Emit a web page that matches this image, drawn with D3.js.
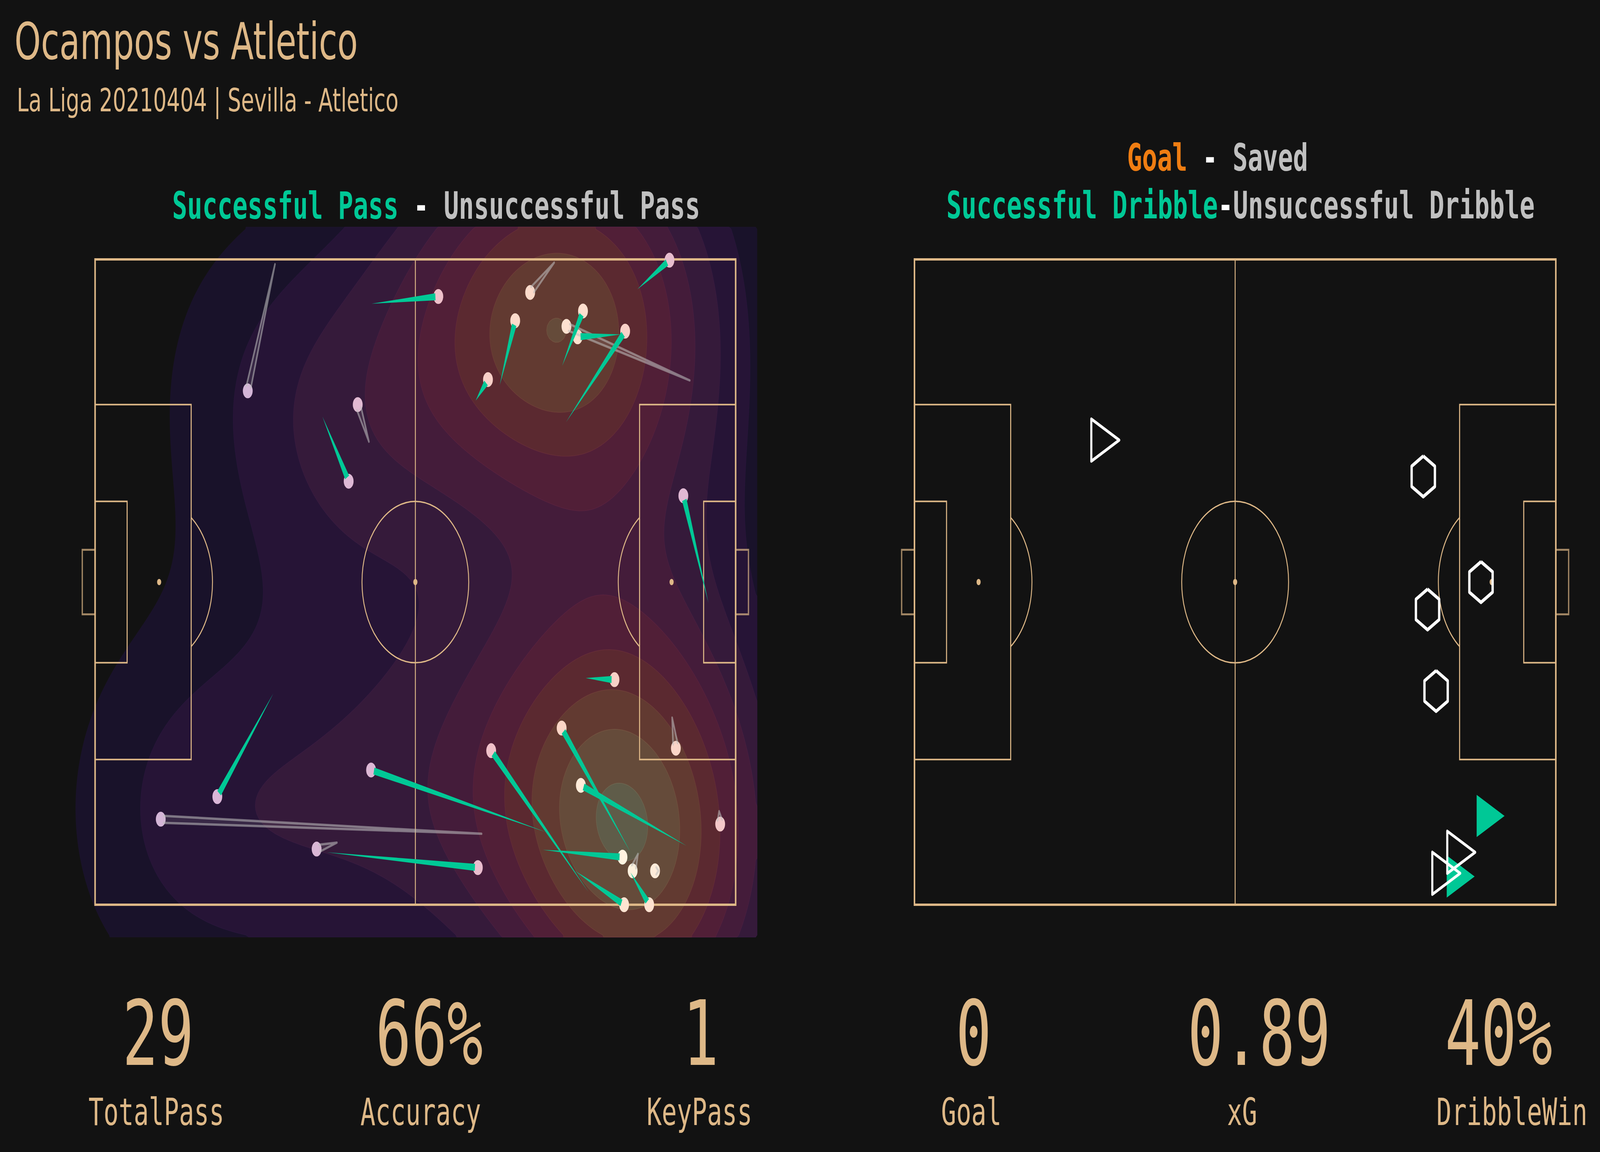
<!DOCTYPE html>
<html>
<head>
<meta charset="utf-8">
<script src="https://cdn.jsdelivr.net/npm/d3@7"></script>
<style>
  html, body { margin: 0; padding: 0; background: #121212; overflow: hidden; }
  svg { display: block; width: 100vw; height: 100vh; }
  text { white-space: pre; }
</style>
</head>
<body>
<div id="chart"></div>
<script>
// Data (StatsBomb pitch units, 120 x 80, y measured from the top touchline)
const passStartX = [51.8, 33.7, 51.3, 42.6, 86.0, 75.8, 71.3, 87.5, 111.4, 98.5, 88.2, 101.6, 114.9, 91.9, 100.3,
  108.1, 92.4, 84.5, 110.8, 33.4, 72.4, 45.3, 43.4, 83.9, 101.7, 105.6, 89.9, 100.3, 116.9]
const passStartY = [5.5, 0.6, 22.6, 19.5, 0.4, 15.6, 17.5, 13.2, 15.0, 9.3, 20.2, 3.7, 42.6, 51.9, 73.5,
  56.8, 78.4, 71.0, 72.7, 53.8, 71.2, 72.3, 73.5, 73.2, 73.7, 75.8, 75.8, 76.0, 68.4]
const passEndX = [64.3, 28.6, 49.2, 47.5, 81.5, 78.7, 73.6, 91.4, 88.3, 90.4, 99.3, 107.6, 110.2, 97.3, 87.4,
  108.8, 74.2, 51.7, 91.0, 22.9, 12.3, 41.5, 71.7, 98.8, 100.7, 104.9, 99.1, 103.8, 117.1]
const passEndY = [4.6, 16.3, 18.0, 27.5, 4.1, 7.6, 14.9, 6.4, 8.3, 9.6, 8.9, 0.1, 29.3, 52.1, 58.1,
  60.6, 60.9, 63.3, 65.2, 66.6, 69.4, 73.1, 75.4, 74.1, 75.8, 75.8, 80.0, 80.0, 70.0]
const passSuccess = [1, 0, 0, 1, 0, 1, 1, 1, 0, 1, 1, 1, 1, 1, 1,
  0, 1, 1, 1, 1, 0, 0, 1, 1, 0, 0, 1, 1, 0]

const shotX = [95.2, 106.0, 96.0, 97.6]
const shotY = [26.9, 40.0, 43.4, 53.5]

const dribbleX = [107.8, 102.2, 102.3, 99.5, 35.7]
const dribbleY = [69.0, 76.5, 73.5, 76.1, 22.4]
const dribbleWon = [1, 1, 0, 0, 0]

const statValues = ['29', '66%', '1', '0', '0.89', '40%']
const statLabels = ['TotalPass', 'Accuracy', 'KeyPass', 'Goal', 'xG', 'DribbleWin']

// Layout / styles
const W = 6192, H = 2949
const bg = '#121212'
const tan = '#deb887'
const green = '#00c896'
const grey = '#c0c0c0'
const orange = '#ef7d12'
const kdeColors = ['#19122a', '#261436', '#351a3a', '#441c3a', '#511f37', '#5b2930', '#623a31', '#654b3a', '#5f5c49']
const statValueX = [612, 1661, 2712, 3768, 4873, 5800]
const statLabelX = [605, 1628, 2707, 3759, 4807, 5851]
const levelSteps = 9.25 // peak density expressed in contour steps

const svg = d3.select('#chart')
  .append('svg')
  .attr('viewBox', `0 0 ${W} ${H}`)
  .attr('preserveAspectRatio', 'none')

svg.append('rect').attr('width', W).attr('height', H).attr('fill', bg)

// Scales
const xL = d3.scaleLinear().domain([0, 120]).range([368, 2847])
const yL = d3.scaleLinear().domain([0, 80]).range([664, 2316])
const xR = d3.scaleLinear().domain([0, 120]).range([3539, 6021])
const yR = d3.scaleLinear().domain([0, 80]).range([664, 2316])

// Titles
svg.append('text')
  .attr('x', 56).attr('y', 151)
  .attr('font-family', 'DejaVu Sans').attr('font-size', 130)
  .attr('fill', tan)
  .text('Ocampos vs Atletico')

svg.append('text')
  .attr('x', 65).attr('y', 285)
  .attr('font-family', 'DejaVu Sans').attr('font-size', 82)
  .attr('fill', tan)
  .text('La Liga 20210404 | Sevilla - Atletico')

function heading(x, y, parts) {
  const t = svg.append('text')
    .attr('x', x).attr('y', y)
    .attr('text-anchor', 'middle')
    .attr('font-family', 'DejaVu Sans Mono').attr('font-weight', 'bold')
    .attr('font-size', 97)
  parts.forEach(([s, c]) => t.append('tspan').attr('fill', c).text(s))
}
heading(1688, 560, [['Successful Pass', green], [' - ', '#ffffff'], ['Unsuccessful Pass', grey]])
heading(4712, 437, [['Goal', orange], [' - ', '#ffffff'], ['Saved', grey]])
heading(4801, 559, [['Successful Dribble', green], ['-', '#ffffff'], ['Unsuccessful Dribble', grey]])

// KDE of pass end locations (gaussian, scott bandwidth, evenly spaced levels)
const kdeLeft = svg.append('g')
const step = 0.5
const nx = Math.round(128 / step), ny = Math.round(88 / step)
const n = passEndX.length
const mx = d3.mean(passEndX), my = d3.mean(passEndY)
let sxx = 0, syy = 0, sxy = 0
for (let i = 0; i < n; i++) {
  const dx = passEndX[i] - mx, dy = passEndY[i] - my
  sxx += dx * dx; syy += dy * dy; sxy += dx * dy
}
const f2 = Math.pow(n, -1 / 3)
const cxx = sxx / (n - 1) * f2, cyy = syy / (n - 1) * f2, cxy = sxy / (n - 1) * f2
const det = cxx * cyy - cxy * cxy
const ixx = cyy / det, iyy = cxx / det, ixy = -cxy / det

function density(px, py) {
  let s = 0
  for (let i = 0; i < n; i++) {
    const dx = px - passEndX[i], dy = py - passEndY[i]
    s += Math.exp(-0.5 * (dx * dx * ixx + 2 * dx * dy * ixy + dy * dy * iyy))
  }
  return s
}

const grid = new Float64Array(nx * ny)
for (let j = 0; j < ny; j++) {
  for (let i = 0; i < nx; i++) {
    grid[j * nx + i] = density(-4 + (i + 0.5) * step, -4 + (j + 0.5) * step)
  }
}
const gridMax = d3.max(grid)
const levelStep = gridMax / levelSteps
const levels = d3.range(1, 10).map(k => k * levelStep)

const kdeProj = d3.geoTransform({
  point(x, y) { this.stream.point(xL(-4 + x * step), yL(-4 + y * step)) }
})
const kdePath = d3.geoPath(kdeProj)
const contours = d3.contours().size([nx, ny]).thresholds(levels)(grid)

kdeLeft.selectAll('path')
  .data(contours)
  .join('path')
  .attr('d', kdePath)
  .attr('fill', (d, i) => kdeColors[i])
  .attr('stroke', (d, i) => d3.color(kdeColors[i]).brighter(0.6))
  .attr('stroke-width', 2)
  .attr('stroke-opacity', 0.5)

// Pitch
function drawPitch(g, x, y) {
  const r = x(10) - x(0)
  const rect = (x0, y0, x1, y1, w, op) => g.append('rect')
    .attr('x', x(x0)).attr('y', y(y0))
    .attr('width', x(x1) - x(x0)).attr('height', y(y1) - y(y0))
    .attr('fill', 'none').attr('stroke', tan)
    .attr('stroke-width', w).attr('stroke-opacity', op)
  rect(0, 18, 18, 62, 4, 1)
  rect(102, 18, 120, 62, 4, 1)
  rect(0, 30, 6, 50, 4, 1)
  rect(114, 30, 120, 50, 4, 1)
  rect(-2.4, 36, 0, 44, 5, 0.7)
  rect(120, 36, 122.4, 44, 5, 0.7)
  g.append('line')
    .attr('x1', x(60)).attr('x2', x(60)).attr('y1', y(0)).attr('y2', y(80))
    .attr('stroke', tan).attr('stroke-width', 3.5)
  g.append('circle')
    .attr('cx', x(60)).attr('cy', y(40)).attr('r', r)
    .attr('fill', 'none').attr('stroke', tan).attr('stroke-width', 3.5)
  g.append('path')
    .attr('d', `M${x(18)},${y(32)} A${r},${r} 0 0 1 ${x(18)},${y(48)}`)
    .attr('fill', 'none').attr('stroke', tan).attr('stroke-width', 3.5)
  g.append('path')
    .attr('d', `M${x(102)},${y(32)} A${r},${r} 0 0 0 ${x(102)},${y(48)}`)
    .attr('fill', 'none').attr('stroke', tan).attr('stroke-width', 3.5)
  g.selectAll('.spot')
    .data([12, 60, 108])
    .join('circle')
    .attr('cx', d => x(d)).attr('cy', y(40)).attr('r', 8)
    .attr('fill', tan)
  rect(0, 0, 120, 80, 6, 1)
}
drawPitch(svg.append('g'), xL, yL)
drawPitch(svg.append('g'), xR, yR)

// Pass end dots coloured by density
const dotColor = d3.scaleLinear()
  .domain([0.1, 0.35, 0.6, 0.8, 1])
  .range(['#c9b2d9', '#dcb7d6', '#f2c2c8', '#fcd7c7', '#fff8e4'])
  .clamp(true)

const passes = passEndX.map((d, i) => ({
  sx: xL(passStartX[i]), sy: yL(passStartY[i]),
  ex: xL(passEndX[i]), ey: yL(passEndY[i]),
  ok: passSuccess[i],
  dens: density(passEndX[i], passEndY[i]) / gridMax
}))

const dotR = 19
svg.append('g').selectAll('circle')
  .data(passes)
  .join('circle')
  .attr('cx', d => d.ex).attr('cy', d => d.ey).attr('r', dotR)
  .attr('fill', d => dotColor(d.dens))

// Comet lines: thin at the start, wide at the end
const wideEnd = 18
function wedge(d) {
  const len = Math.hypot(d.ex - d.sx, d.ey - d.sy) || 1
  const ux = (d.ex - d.sx) / len, uy = (d.ey - d.sy) / len
  const cut = Math.min(dotR * 0.6, len * 0.3)
  const bx = d.ex - ux * cut, by = d.ey - uy * cut
  const nxv = -uy * wideEnd / 2, nyv = ux * wideEnd / 2
  return [[d.sx, d.sy], [bx + nxv, by + nyv], [bx - nxv, by - nyv]]
}

const lineG = svg.append('g')
lineG.selectAll('.fail')
  .data(passes.filter(d => !d.ok))
  .join('path')
  .attr('class', 'fail')
  .attr('d', d => {
    const p = wedge(d)
    return `M${p[1]}L${p[0]}L${p[2]}`
  })
  .attr('fill', grey).attr('fill-opacity', 0.12)
  .attr('stroke', grey).attr('stroke-opacity', 0.55)
  .attr('stroke-width', 6).attr('stroke-linejoin', 'round').attr('stroke-linecap', 'round')

lineG.selectAll('.ok')
  .data(passes.filter(d => d.ok))
  .join('path')
  .attr('class', 'ok')
  .attr('d', d => 'M' + wedge(d).join('L') + 'Z')
  .attr('fill', green)

// Shots (hexagons)
const hexR = 52
const hexPath = d3.line()(d3.range(7).map(k => {
  const a = (-90 + 60 * k) * Math.PI / 180
  return [hexR * Math.cos(a), hexR * Math.sin(a)]
}))
svg.append('g').selectAll('path')
  .data(shotX.map((d, i) => [d, shotY[i]]))
  .join('path')
  .attr('d', hexPath)
  .attr('transform', d => `translate(${xR(d[0])},${yR(d[1])})`)
  .attr('fill', 'none').attr('stroke', '#ffffff').attr('stroke-width', 9)
  .attr('stroke-linejoin', 'round')

// Dribbles (right-pointing triangles)
const triS = 54
const triPath = `M${triS},0L${-triS},${-triS}L${-triS},${triS}Z`
const dribbles = dribbleX.map((d, i) => ({ x: d, y: dribbleY[i], won: dribbleWon[i] }))
  .sort((a, b) => b.won - a.won)
svg.append('g').selectAll('path')
  .data(dribbles)
  .join('path')
  .attr('d', triPath)
  .attr('transform', d => `translate(${xR(d.x)},${yR(d.y)})`)
  .attr('fill', d => d.won ? green : 'none')
  .attr('stroke', d => d.won ? 'none' : '#ffffff')
  .attr('stroke-width', 8)
  .attr('stroke-linejoin', 'round')

// Stats row
svg.append('g').selectAll('text')
  .data(statValues)
  .join('text')
  .attr('x', (d, i) => statValueX[i]).attr('y', 2726)
  .attr('text-anchor', 'middle')
  .attr('font-family', 'DejaVu Sans Mono').attr('font-size', 230)
  .attr('fill', tan)
  .text(d => d)

svg.append('g').selectAll('text')
  .data(statLabels)
  .join('text')
  .attr('x', (d, i) => statLabelX[i]).attr('y', 2880)
  .attr('text-anchor', 'middle')
  .attr('font-family', 'DejaVu Sans Mono').attr('font-size', 97)
  .attr('fill', tan)
  .text(d => d)
</script>
</body>
</html>
